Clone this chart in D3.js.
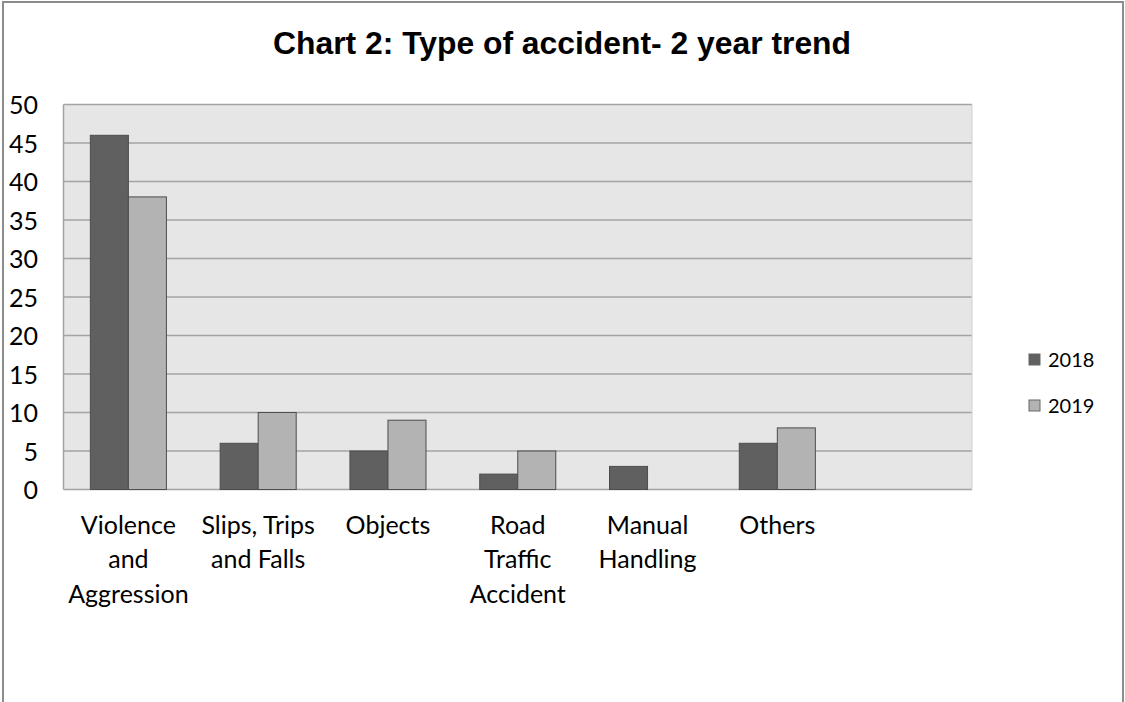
<!DOCTYPE html>
<html>
<head>
<meta charset="utf-8">
<script src="https://cdn.jsdelivr.net/npm/d3@7"></script>
<style>
  html, body { margin: 0; padding: 0; background: #fff; }
  svg { display: block; }
</style>
</head>
<body>
<svg id="chart" width="1125" height="702"></svg>
<script>
// ---- data ----
const categories = ["Violence\nand\nAggression", "Slips, Trips\nand Falls", "Objects", "Road\nTraffic\nAccident", "Manual\nHandling", "Others", ""];
const seriesNames = ["2018", "2019"];
const values2018 = [46, 6, 5, 2, 3, 6, null];
const values2019 = [38, 10, 9, 5, 0, 8, null];
const yTicks = [0, 5, 10, 15, 20, 25, 30, 35, 40, 45, 50];
const title = "Chart 2: Type of accident- 2 year trend";

const colors = { "2018": "#606060", "2019": "#b3b3b3" };
const seriesValues = { "2018": values2018, "2019": values2019 };

const svg = d3.select("#chart");
const plot = { left: 63.5, right: 972, top: 104.5, bottom: 489.5 };

// outer border
svg.append("rect")
  .attr("x", 3).attr("y", 2).attr("width", 1120).attr("height", 720)
  .attr("fill", "#fff").attr("stroke", "#8c8c8c").attr("stroke-width", 2);

// title
svg.append("text")
  .attr("x", 562).attr("y", 54)
  .attr("text-anchor", "middle")
  .attr("font-family", "Liberation Sans, Arial, sans-serif")
  .attr("font-weight", "bold")
  .attr("font-size", 32)
  .attr("textLength", 578)
  .attr("lengthAdjust", "spacingAndGlyphs")
  .attr("fill", "#000")
  .text(title);

const x = d3.scaleBand()
  .domain(d3.range(categories.length))
  .range([plot.left, plot.right])
  .paddingInner(0).paddingOuter(0);

const bw = x.bandwidth();
const x1 = d3.scaleBand()
  .domain(seriesNames)
  .range([bw * 0.207, bw * 0.793])
  .padding(0);

const y = d3.scaleLinear().domain([0, 50]).range([plot.bottom, plot.top]);

// plot background
svg.append("rect")
  .attr("x", plot.left).attr("y", plot.top)
  .attr("width", plot.right - plot.left).attr("height", plot.bottom - plot.top)
  .attr("fill", "#e6e6e6");

// gridlines
svg.append("g").selectAll("line")
  .data(yTicks)
  .join("line")
  .attr("x1", plot.left).attr("x2", plot.right)
  .attr("y1", d => y(d)).attr("y2", d => y(d))
  .attr("stroke", "#a3a3a3").attr("stroke-width", 1.5);

// plot border left/right
svg.append("line").attr("x1", plot.left).attr("x2", plot.left)
  .attr("y1", plot.top).attr("y2", plot.bottom)
  .attr("stroke", "#a3a3a3").attr("stroke-width", 1.5);
svg.append("line").attr("x1", plot.right).attr("x2", plot.right)
  .attr("y1", plot.top).attr("y2", plot.bottom)
  .attr("stroke", "#d0d0d0").attr("stroke-width", 1);

// bars
const groups = svg.append("g").selectAll("g")
  .data(categories.map((c, i) => i))
  .join("g")
  .attr("transform", i => `translate(${x(i)},0)`);

groups.selectAll("rect")
  .data(i => seriesNames.map(s => ({ s, v: seriesValues[s][i] })).filter(d => d.v != null && d.v > 0))
  .join("rect")
  .attr("x", d => x1(d.s))
  .attr("width", x1.bandwidth())
  .attr("y", d => y(d.v))
  .attr("height", d => y(0) - y(d.v))
  .attr("fill", d => colors[d.s])
  .attr("stroke", "#4d4d4d")
  .attr("stroke-width", 1);

// y axis
const yAxis = d3.axisLeft(y).tickValues(yTicks).tickSize(0).tickPadding(0);
const yg = svg.append("g")
  .attr("transform", "translate(38,0)")
  .call(yAxis);
yg.select(".domain").remove();
yg.selectAll("text")
  .attr("font-family", "Lato, Calibri, sans-serif")
  .attr("font-size", 25)
  .attr("fill", "#000")
  .attr("dy", "0.36em");

// x axis labels
const xAxis = d3.axisBottom(x).tickSize(0).tickFormat(() => "");
const xg = svg.append("g")
  .attr("transform", `translate(0,${plot.bottom})`)
  .call(xAxis);
xg.select(".domain").remove();
xg.selectAll(".tick").each(function(i) {
  const t = d3.select(this).select("text")
    .attr("font-family", "Lato, Calibri, sans-serif")
    .attr("font-size", 25)
    .attr("fill", "#000")
    .attr("y", 0).attr("dy", null);
  const lines = categories[i].split("\n");
  t.selectAll("tspan").data(lines).join("tspan")
    .attr("x", 0)
    .attr("y", (d, k) => 44 + k * 34.5)
    .text(d => d);
});

// legend
const legend = svg.append("g");
const legendY = [360, 406];
seriesNames.forEach((s, k) => {
  legend.append("rect")
    .attr("x", 1029).attr("y", legendY[k] - 6)
    .attr("width", 11).attr("height", 11)
    .attr("fill", colors[s]).attr("stroke", "#666").attr("stroke-width", 1);
  legend.append("text")
    .attr("x", 1048).attr("y", legendY[k] + 7)
    .attr("font-family", "Lato, Calibri, sans-serif")
    .attr("font-size", 20)
    .attr("fill", "#000")
    .text(s);
});
</script>
</body>
</html>
